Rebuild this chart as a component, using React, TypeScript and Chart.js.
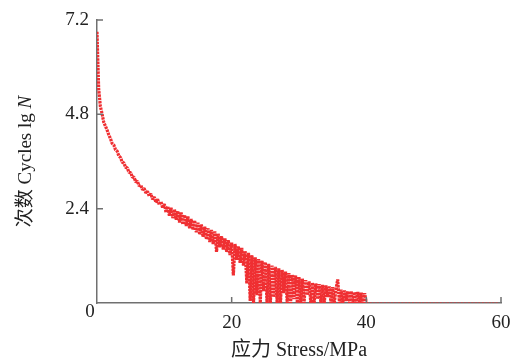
import React, { useEffect, useRef } from "react";
import { Chart, registerables } from "chart.js";

Chart.register(...registerables);

const stress: number[] = [
  0, 0.25, 0.5, 0.75, 1, 1.25, 1.5, 1.75, 2, 2.25, 2.5, 2.75, 3, 3.25, 3.5, 3.75,
  4, 4.25, 4.5, 4.75, 5, 5.25, 5.5, 5.75, 6, 6.25, 6.5, 6.75, 7, 7.25, 7.5, 7.75,
  8, 8.25, 8.5, 8.75, 9, 9.25, 9.5, 9.75, 10, 10.25, 10.5, 10.75, 11, 11.25, 11.5, 11.75,
  12, 12.25, 12.5, 12.75, 13, 13.25, 13.5, 13.75, 14, 14.25, 14.5, 14.75, 15, 15.25, 15.5, 15.75,
  16, 16.25, 16.5, 16.75, 17, 17.25, 17.5, 17.75, 18, 18.25, 18.5, 18.75, 19, 19.25, 19.5, 19.75,
  20, 20.25, 20.5, 20.75, 21, 21.25, 21.5, 21.75, 22, 22.25, 22.5, 22.75, 23, 23.25, 23.5, 23.75,
  24, 24.25, 24.5, 24.75, 25, 25.25, 25.5, 25.75, 26, 26.25, 26.5, 26.75, 27, 27.25, 27.5, 27.75,
  28, 28.25, 28.5, 28.75, 29, 29.25, 29.5, 29.75, 30, 30.25, 30.5, 30.75, 31, 31.25, 31.5, 31.75,
  32, 32.25, 32.5, 32.75, 33, 33.25, 33.5, 33.75, 34, 34.25, 34.5, 34.75, 35, 35.25, 35.5, 35.75,
  36, 36.25, 36.5, 36.75, 37, 37.25, 37.5, 37.75, 38, 38.25, 38.5, 38.75, 39, 39.25, 39.5, 39.75,
  40,
];

const cyclesLgN: number[] = [
  6.9, 5.45, 5.0, 4.82, 4.6, 4.5, 4.4, 4.28, 4.18, 4.06, 4.02, 3.9, 3.86, 3.74, 3.7, 3.58,
  3.56, 3.45, 3.44, 3.32, 3.32, 3.2, 3.2, 3.08, 3.1, 2.98, 3.0, 2.88, 2.92, 2.8, 2.84, 2.72,
  2.78, 2.64, 2.7, 2.56, 2.64, 2.5, 2.58, 2.42, 2.52, 2.3, 2.46, 2.22, 2.42, 2.16, 2.38, 2.12,
  2.34, 2.05, 2.3, 2.0, 2.24, 1.96, 2.2, 1.9, 2.14, 1.86, 2.1, 1.8, 2.04, 1.74, 2.0, 1.68,
  1.94, 1.62, 1.9, 1.55, 1.86, 1.5, 1.82, 1.3, 1.76, 1.42, 1.7, 1.36, 1.64, 1.3, 1.6, 1.22,
  1.54, 0.7, 1.5, 1.1, 1.44, 1.02, 1.4, 0.95, 1.32, 0.5, 1.28, 0.05, 1.22, 0.0, 1.16, 0.2,
  1.12, 0.0, 1.08, 0.3, 1.04, 0.0, 1.0, 0.0, 0.95, 0.15, 0.92, 0.0, 0.88, 0.0, 0.84, 0.25,
  0.8, 0.0, 0.76, 0.0, 0.72, 0.1, 0.7, 0.0, 0.66, 0.0, 0.62, 0.0, 0.58, 0.2, 0.55, 0.0,
  0.52, 0.0, 0.5, 0.1, 0.48, 0.0, 0.46, 0.0, 0.45, 0.15, 0.42, 0.0, 0.4, 0.0, 0.36, 0.6,
  0.0, 0.34, 0.0, 0.32, 0.05, 0.3, 0.0, 0.3, 0.0, 0.28, 0.0, 0.28, 0.0, 0.26, 0.0, 0.25,
  0.0,
];

// flat tail of the curve lying on the axis
const tailStress: number[] = [40, 59.5];
const tailLgN: number[] = [0, 0];

const xTickValues: number[] = [0, 20, 40, 60];
const yTickValues: number[] = [0, 2.4, 4.8, 7.2];
const xTitle = "应力 Stress/MPa";
const yTitleMain = "次数 Cycles lg ";
const yTitleItalic = "N";
const originLabel = "0";

const FONT_FAMILY = '"Liberation Serif", "Noto Sans CJK SC", serif';
const AXIS_COLOR = "#707070";
const TEXT_COLOR = "#222222";
const LINE_COLOR = "#ef2f32";

const decorPlugin = {
  id: "decor",
  afterDraw(chart: any) {
    const ctx = chart.ctx;
    const area = chart.chartArea;
    const xs = chart.scales.x;
    const ys = chart.scales.y;
    ctx.save();
    ctx.strokeStyle = AXIS_COLOR;
    ctx.lineWidth = 1.5;
    ctx.beginPath();
    xTickValues.forEach((v) => {
      if (v === 0) return;
      const px = xs.getPixelForValue(v);
      ctx.moveTo(px, area.bottom);
      ctx.lineTo(px, area.bottom - 6);
    });
    yTickValues.forEach((v) => {
      if (v === 0) return;
      const py = ys.getPixelForValue(v);
      ctx.moveTo(area.left, py);
      ctx.lineTo(area.left + 6, py);
    });
    ctx.stroke();

    ctx.fillStyle = TEXT_COLOR;
    ctx.font = `19px ${FONT_FAMILY}`;
    ctx.textAlign = "center";
    ctx.textBaseline = "middle";
    ctx.fillText(originLabel, area.left - 7, area.bottom + 9);

    const cy = (area.top + area.bottom) / 2;
    ctx.translate(26, cy);
    ctx.rotate(-Math.PI / 2);
    const regFont = `19px ${FONT_FAMILY}`;
    const itFont = `italic 19px ${FONT_FAMILY}`;
    ctx.font = regFont;
    const w1 = ctx.measureText(yTitleMain).width;
    ctx.font = itFont;
    const w2 = ctx.measureText(yTitleItalic).width;
    const start = -(w1 + w2) / 2;
    ctx.textAlign = "left";
    ctx.font = regFont;
    ctx.fillText(yTitleMain, start, 0);
    ctx.font = itFont;
    ctx.fillText(yTitleItalic, start + w1, 0);
    ctx.restore();
  },
};

export default function App() {
  const canvasRef = useRef<HTMLCanvasElement | null>(null);

  useEffect(() => {
    document.body.style.margin = "0";
    document.body.style.overflow = "hidden";
    const canvas = canvasRef.current;
    if (!canvas) return;
    const chart = new Chart(canvas, {
      type: "line",
      data: {
        datasets: [
          {
            data: stress.map((s, i) => ({ x: s, y: cyclesLgN[i] })),
            borderColor: LINE_COLOR,
            borderWidth: 3.2,
            borderDash: [2.5, 0.8],
            borderJoinStyle: "bevel",
            borderCapStyle: "butt",
            pointRadius: 0,
            tension: 0,
            fill: false,
          },
          {
            data: tailStress.map((s, i) => ({ x: s, y: tailLgN[i] })),
            borderColor: LINE_COLOR,
            borderWidth: 1.2,
            borderDash: [2, 1.5],
            pointRadius: 0,
            tension: 0,
            fill: false,
          },
        ],
      },
      options: {
        responsive: false,
        maintainAspectRatio: false,
        animation: false,
        layout: { padding: { top: 20, right: 20, left: 0, bottom: 0 } },
        plugins: { legend: { display: false }, tooltip: { enabled: false } },
        scales: {
          x: {
            type: "linear",
            min: 0,
            max: 60,
            afterBuildTicks: (scale: any) => {
              scale.ticks = xTickValues.map((v) => ({ value: v }));
            },
            afterFit: (scale: any) => {
              scale.height = 57;
            },
            grid: { display: false, drawTicks: false },
            border: { display: true, color: AXIS_COLOR, width: 1.5 },
            ticks: {
              padding: 9,
              maxRotation: 0,
              color: TEXT_COLOR,
              font: { family: FONT_FAMILY, size: 19 },
              callback: (v: any) => (Number(v) === 0 ? "" : String(v)),
            },
            title: {
              display: true,
              text: xTitle,
              color: TEXT_COLOR,
              font: { family: FONT_FAMILY, size: 20 },
              padding: { top: 0, bottom: -3 },
            },
          },
          y: {
            type: "linear",
            min: 0,
            max: 7.2,
            afterBuildTicks: (scale: any) => {
              scale.ticks = yTickValues.map((v) => ({ value: v }));
            },
            afterFit: (scale: any) => {
              scale.width = 97;
            },
            grid: { display: false, drawTicks: false },
            border: { display: true, color: AXIS_COLOR, width: 1.5 },
            ticks: {
              padding: 8,
              color: TEXT_COLOR,
              font: { family: FONT_FAMILY, size: 19 },
              callback: (v: any) => (Number(v) === 0 ? "" : Number(v).toFixed(1)),
            },
          },
        },
      },
      plugins: [decorPlugin],
    });
    return () => chart.destroy();
  }, []);

  return (
    <div style={{ width: 521, height: 360 }}>
      <canvas ref={canvasRef} width={521} height={360} style={{ display: "block" }} />
    </div>
  );
}
